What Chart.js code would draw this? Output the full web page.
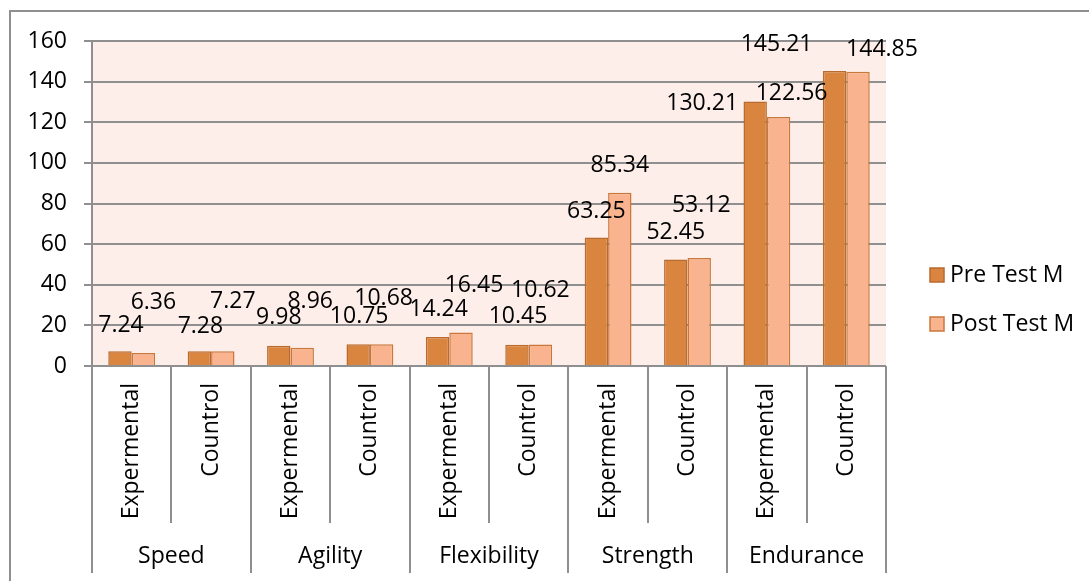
<!DOCTYPE html>
<html>
<head>
<meta charset="utf-8">
<script src="https://cdn.jsdelivr.net/npm/chart.js@4.4.1/dist/chart.umd.min.js"></script>
<style>
  html, body { margin: 0; padding: 0; background: #fff; }
  #wrap { width: 1089px; height: 581px; position: relative; }
</style>
</head>
<body>
<div id="wrap"><canvas id="chart"></canvas></div>
<script>
  // Data
  const groups = ['Speed', 'Agility', 'Flexibility', 'Strength', 'Endurance'];
  const subgroups = ['Expermental', 'Countrol', 'Expermental', 'Countrol', 'Expermental',
                     'Countrol', 'Expermental', 'Countrol', 'Expermental', 'Countrol'];
  const preTest = [7.24, 7.28, 9.98, 10.75, 14.24, 10.45, 63.25, 52.45, 130.21, 145.21];
  const postTest = [6.36, 7.27, 8.96, 10.68, 16.45, 10.62, 85.34, 53.12, 122.56, 144.85];
  const yTicks = [0, 20, 40, 60, 80, 100, 120, 140, 160];

  const FONT = "'Open Sans', 'Noto Sans', sans-serif";
  const FONT_SIZE = 23;
  const LINE = '#8f8f8f';

  // Hand-moved data labels in the original: nudge (px) from bar top centre
  const labelNudge = [
    [[1, -26], [1, -25], [0, -28], [1, -28], [1, -28], [1, -28], [0, -26], [0, -27], [-53, 2], [-58, -27]],
    [[10, -51], [10, -50], [8, -46], [2, -46], [13, -47], [0, -54], [0, -27], [2, -53], [13, -24], [24, -22]]
  ];

  // Frame, plot background, category axis, labels and legend
  const excelLook = {
    id: 'excelLook',
    beforeDraw(chart) {
      const { ctx, chartArea: a } = chart;
      ctx.save();
      ctx.fillStyle = '#fdeee9';
      ctx.fillRect(a.left, a.top, a.right - a.left, a.bottom - a.top);
      ctx.strokeStyle = LINE;
      ctx.lineWidth = 2;
      ctx.beginPath();
      ctx.moveTo(10, chart.height);
      ctx.lineTo(10, 11);
      ctx.lineTo(chart.width, 11);
      ctx.stroke();
      ctx.restore();
    },
    afterDatasetsDraw(chart) {
      const { ctx } = chart;
      ctx.save();
      ctx.font = FONT_SIZE + 'px ' + FONT;
      ctx.fillStyle = '#000';
      ctx.textAlign = 'center';
      ctx.textBaseline = 'middle';
      chart.data.datasets.forEach((ds, di) => {
        chart.getDatasetMeta(di).data.forEach((el, i) => {
          const n = labelNudge[di][i];
          ctx.fillText(ds.data[i].toFixed(2), el.x + n[0], el.y + n[1]);
        });
      });
      ctx.restore();
    },
    afterDraw(chart) {
      const { ctx, chartArea: a } = chart;
      const x = chart.scales.x;
      const step = (a.right - a.left) / subgroups.length;
      ctx.save();
      // separators
      ctx.strokeStyle = LINE;
      ctx.lineWidth = 2;
      for (let i = 0; i <= subgroups.length; i++) {
        const px = Math.round(a.left + i * step);
        ctx.beginPath();
        ctx.moveTo(px, a.bottom);
        ctx.lineTo(px, i % 2 === 0 ? 573 : 523);
        ctx.stroke();
      }
      ctx.font = FONT_SIZE + 'px ' + FONT;
      ctx.fillStyle = '#000';
      // rotated sub labels
      subgroups.forEach((lab, i) => {
        ctx.save();
        ctx.translate(x.getPixelForValue(i), 383);
        ctx.rotate(-Math.PI / 2);
        ctx.textAlign = 'right';
        ctx.textBaseline = 'middle';
        ctx.fillText(lab, 0, 0);
        ctx.restore();
      });
      // group labels
      ctx.textAlign = 'center';
      ctx.textBaseline = 'middle';
      groups.forEach((g, gi) => {
        const cx = (x.getPixelForValue(gi * 2) + x.getPixelForValue(gi * 2 + 1)) / 2;
        ctx.fillText(g, cx, 556);
      });
      // legend
      ctx.textAlign = 'left';
      chart.data.datasets.forEach((ds, di) => {
        const cy = 275 + di * 49;
        ctx.fillStyle = ds.backgroundColor;
        ctx.strokeStyle = ds.borderColor;
        ctx.lineWidth = 1.5;
        ctx.fillRect(930, cy - 7, 14, 14);
        ctx.strokeRect(930, cy - 7, 14, 14);
        ctx.fillStyle = '#000';
        ctx.fillText(ds.label, 950, cy);
      });
      ctx.restore();
    }
  };

  new Chart(document.getElementById('chart'), {
    type: 'bar',
    data: {
      labels: subgroups,
      datasets: [
        {
          label: 'Pre Test M',
          data: preTest,
          backgroundColor: '#d9843f',
          borderColor: '#b96a2e',
          borderWidth: 1.5,
          categoryPercentage: 0.59,
          barPercentage: 1.0
        },
        {
          label: 'Post Test M',
          data: postTest,
          backgroundColor: '#f9b48f',
          borderColor: '#c9783c',
          borderWidth: 1.5,
          categoryPercentage: 0.59,
          barPercentage: 1.0
        }
      ]
    },
    options: {
      responsive: true,
      maintainAspectRatio: false,
      animation: false,
      layout: { padding: { left: 0, top: 41, right: 203, bottom: 215 } },
      scales: {
        x: { display: false },
        y: {
          min: 0,
          max: 160,
          afterFit: s => { s.width = 92; },
          afterBuildTicks: s => { s.ticks = yTicks.map(v => ({ value: v })); },
          ticks: {
            padding: 17,
            color: '#000',
            font: { family: FONT, size: FONT_SIZE }
          },
          grid: { color: LINE, lineWidth: 2, tickLength: 8 },
          border: { color: LINE, width: 2 }
        }
      },
      plugins: {
        legend: { display: false },
        tooltip: { enabled: false }
      }
    },
    plugins: [excelLook]
  });
</script>
</body>
</html>
